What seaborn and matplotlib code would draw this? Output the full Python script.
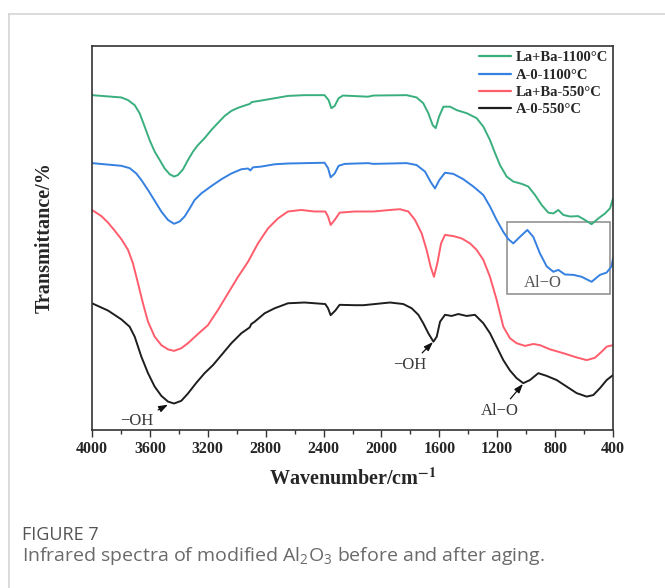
import numpy as np
import pandas as pd
import matplotlib
matplotlib.use("Agg")
import matplotlib.pyplot as plt
from matplotlib.lines import Line2D
from matplotlib.patches import Rectangle
import seaborn as sns

# ---------------- data ----------------
series_names = ["La+Ba-1100°C", "A-0-1100°C", "La+Ba-550°C", "A-0-550°C"]
series_colors = ["#3aaf7e", "#3580e0", "#ff5c6c", "#1e1e1e"]

wn_green = [4000, 3797, 3751, 3705, 3671, 3636, 3602, 3567, 3532, 3498, 3463, 3433,
            3406, 3371, 3337, 3302, 3268, 3222, 3176, 3129, 3083, 3037, 2991, 2945,
            2911, 2895, 2830, 2738, 2646, 2531, 2393, 2365, 2346, 2323, 2296, 2266,
            2093, 2056, 1826, 1757, 1711, 1676, 1646, 1625, 1602, 1572, 1526, 1480,
            1411, 1342, 1296, 1250, 1215, 1181, 1135, 1089, 1031, 985, 939, 893,
            847, 812, 778, 743, 697, 640, 594, 548, 501, 455, 421, 400]
t_green = [87.2, 86.6, 85.9, 84.6, 82.5, 79.0, 75.5, 72.5, 70.3, 68.1, 66.6, 66.0,
           66.4, 67.9, 70.3, 72.5, 74.2, 76.0, 78.1, 80.0, 81.8, 83.1, 83.9, 84.5,
           84.9, 85.4, 85.8, 86.4, 87.0, 87.2, 87.2, 85.9, 83.8, 84.4, 86.4, 87.1,
           86.8, 87.1, 87.2, 86.6, 85.1, 82.5, 79.4, 78.6, 81.6, 84.2, 84.2, 83.3,
           82.5, 81.2, 79.0, 75.5, 72.1, 69.0, 66.0, 64.7, 64.1, 63.4, 61.2, 58.6,
           56.6, 56.4, 57.3, 56.0, 55.6, 55.7, 54.7, 53.6, 55.1, 56.4, 57.7, 60.3]

wn_blue = [4000, 3797, 3740, 3694, 3659, 3613, 3567, 3521, 3475, 3433, 3394, 3360,
           3325, 3291, 3245, 3176, 3106, 3037, 2968, 2922, 2906, 2888, 2830, 2738,
           2646, 2393, 2369, 2351, 2323, 2296, 2254, 2093, 2056, 1826, 1757, 1699,
           1660, 1630, 1600, 1561, 1503, 1434, 1365, 1296, 1250, 1204, 1158, 1123,
           1089, 1043, 992, 951, 905, 858, 812, 778, 732, 674, 617, 548, 490, 444,
           410, 400]
t_blue = [69.5, 68.8, 68.2, 66.8, 65.1, 62.5, 59.7, 56.9, 54.7, 53.7, 54.3, 55.6,
          57.7, 59.9, 61.6, 63.5, 65.3, 66.8, 67.9, 68.1, 67.6, 68.4, 68.6, 69.2,
          69.4, 69.6, 68.2, 65.8, 66.8, 68.8, 69.3, 69.5, 69.3, 69.5, 69.0, 67.3,
          64.6, 62.9, 65.1, 67.0, 66.7, 65.3, 63.4, 61.2, 58.2, 54.7, 51.6, 49.7,
          48.6, 50.3, 52.1, 50.3, 46.0, 42.6, 41.2, 41.7, 40.5, 40.4, 39.9, 38.6,
          40.4, 41.0, 42.6, 44.7]

wn_red = [4000, 3935, 3889, 3843, 3797, 3751, 3717, 3682, 3648, 3613, 3567, 3521,
          3475, 3433, 3383, 3337, 3268, 3199, 3129, 3060, 2991, 2922, 2853, 2784,
          2715, 2646, 2554, 2462, 2388, 2369, 2351, 2323, 2289, 2185, 2093, 2056,
          1941, 1872, 1814, 1768, 1722, 1688, 1660, 1637, 1614, 1588, 1561, 1503,
          1446, 1388, 1342, 1296, 1250, 1204, 1158, 1112, 1066, 1008, 951, 905,
          835, 743, 651, 582, 525, 478, 444, 400]
t_red = [57.3, 55.7, 54.0, 51.9, 49.7, 46.9, 43.4, 38.2, 33.0, 28.2, 24.3, 22.1,
         21.0, 20.6, 21.3, 22.6, 25.0, 27.3, 31.3, 35.6, 39.9, 43.8, 48.6, 52.5,
         55.1, 56.9, 57.3, 56.9, 56.9, 55.6, 53.4, 54.7, 56.6, 56.9, 56.9, 56.9,
         57.3, 57.5, 56.9, 54.7, 51.2, 46.9, 42.5, 39.9, 43.4, 48.6, 50.8, 50.5,
         49.9, 48.6, 46.9, 44.3, 39.9, 33.9, 26.9, 23.9, 22.6, 21.9, 22.4, 22.1,
         21.0, 20.0, 18.9, 18.2, 18.8, 20.4, 21.7, 22.1]

wn_black = [4000, 3889, 3797, 3740, 3705, 3659, 3613, 3567, 3521, 3475, 3433, 3383,
            3337, 3279, 3222, 3164, 3106, 3037, 2968, 2911, 2899, 2876, 2807, 2738,
            2646, 2531, 2388, 2369, 2351, 2319, 2289, 2185, 2125, 1941, 1849, 1791,
            1745, 1711, 1676, 1641, 1618, 1595, 1561, 1515, 1469, 1411, 1354, 1296,
            1250, 1204, 1158, 1112, 1066, 1020, 974, 916, 859, 789, 720, 651, 582,
            536, 490, 444, 400]
t_black = [33.0, 31.1, 28.8, 26.9, 24.3, 19.1, 14.8, 11.3, 8.9, 7.4, 6.9, 7.6,
           9.5, 12.3, 14.8, 16.9, 19.5, 22.6, 25.2, 26.7, 27.6, 28.2, 30.4, 31.7,
           33.0, 33.2, 32.8, 31.7, 29.9, 31.1, 32.6, 32.5, 32.5, 33.2, 32.8, 31.7,
           30.0, 27.8, 25.2, 23.0, 24.3, 28.2, 30.0, 29.7, 30.2, 29.7, 30.0, 27.8,
           25.2, 21.7, 18.2, 15.5, 13.5, 12.2, 13.0, 14.8, 14.1, 13.0, 11.3, 9.6, 8.7,
           9.1, 10.9, 13.0, 14.3]

x_ticks = [4000, 3600, 3200, 2800, 2400, 2000, 1600, 1200, 800, 400]

frames = []
for name, wn, tt in zip(series_names,
                        [wn_green, wn_blue, wn_red, wn_black],
                        [t_green, t_blue, t_red, t_black]):
    frames.append(pd.DataFrame({"wavenumber": wn, "T": tt, "sample": name}))
df = pd.concat(frames, ignore_index=True)

# ---------------- figure ----------------
sns.set_style("white")
plt.rcParams["font.family"] = ["Liberation Serif", "DejaVu Serif"]
plt.rcParams["mathtext.fontset"] = "custom"
plt.rcParams["mathtext.rm"] = "Open Sans"

fig = plt.figure(figsize=(6.65, 5.88), dpi=100)
ax = fig.add_axes([92 / 665, 1 - 430 / 588, 521 / 665, 384 / 588])

sns.lineplot(data=df, x="wavenumber", y="T", hue="sample", hue_order=series_names,
             palette=dict(zip(series_names, series_colors)), sort=False,
             estimator=None, linewidth=1.4, ax=ax)
for ln in ax.get_lines():
    ln.set_solid_joinstyle("round")

ax.set_xlim(4000, 400)
ax.set_ylim(0, 100)
ax.set_xticks(x_ticks)
ax.set_xticklabels([str(t) for t in x_ticks], fontsize=11.5, fontweight="bold")
ax.set_xticks(np.arange(3800, 400, -400), minor=True)
ax.set_yticks([])
ax.tick_params(axis="x", which="major", direction="out", length=5, width=1.0,
               color="#333333", pad=3, bottom=True)
ax.tick_params(axis="x", which="minor", direction="out", length=3, width=1.0,
               color="#333333", bottom=True)
for sp in ax.spines.values():
    sp.set_visible(True)
    sp.set_color("#333333")
    sp.set_linewidth(1.2)

ax.set_xlabel("Wavenumber/cm$^{\\mathbf{-1}}$", fontsize=14.5, fontweight="bold",
              labelpad=8)
ax.set_ylabel("Transmittance/%", fontsize=14.5, fontweight="bold", labelpad=27)
ax.xaxis.label.set_math_fontfamily("stix")

leg = ax.legend(loc="upper right", bbox_to_anchor=(1.0, 1.0), frameon=False,
                prop={"family": "Liberation Serif", "weight": "bold", "size": 10.5},
                handlelength=2.2, handletextpad=0.3, labelspacing=0.28,
                borderaxespad=0.15, borderpad=0.2)
for h in leg.get_lines():
    h.set_linewidth(1.6)

# annotations
ann_color = "#3a3a3a"
akw = dict(arrowstyle="-|>,head_length=0.45,head_width=0.16", color="#111111", lw=0.9,
           shrinkA=1, shrinkB=0)
ax.annotate("\u2212OH", xy=(3475, 6.6), xytext=(3689, 2.3), ha="center", va="center",
            fontsize=12, color=ann_color, arrowprops=akw)
ax.annotate("\u2212OH", xy=(1644, 22.9), xytext=(1803, 16.9), ha="center", va="center",
            fontsize=12, color=ann_color, arrowprops=akw)
ax.annotate("Al\u2212O", xy=(1022, 12.0), xytext=(1181, 4.9), ha="center", va="center",
            fontsize=12, color=ann_color, arrowprops=akw)
ax.add_patch(Rectangle((1132, 35.4), 421 - 1132, 54.2 - 35.4, fill=False,
                       edgecolor="#8a8a8a", lw=1.1))
ax.text(884, 38.3, "Al\u2212O", ha="center", va="center", fontsize=12, color="#555555")

# page border (top & left)
fig.add_artist(Line2D([9 / 665, 1.0], [1 - 14 / 588, 1 - 14 / 588], color="#d4d4d4", lw=1.2))
fig.add_artist(Line2D([9 / 665, 9 / 665], [0, 1 - 14 / 588], color="#d4d4d4", lw=1.2))

# caption
fig.text(22 / 665, 1 - 535 / 588, "FIGURE 7", family="Open Sans", fontsize=13,
         color="#555555", ha="left", va="center")
fig.text(22 / 665, 1 - 556 / 588,
         "Infrared spectra of modified Al$_\\mathregular{2}$O$_\\mathregular{3}$ before and after aging.",
         family="Open Sans", fontsize=14, color="#6a6a6a", ha="left", va="center")

fig.savefig("out.png", dpi=100)
